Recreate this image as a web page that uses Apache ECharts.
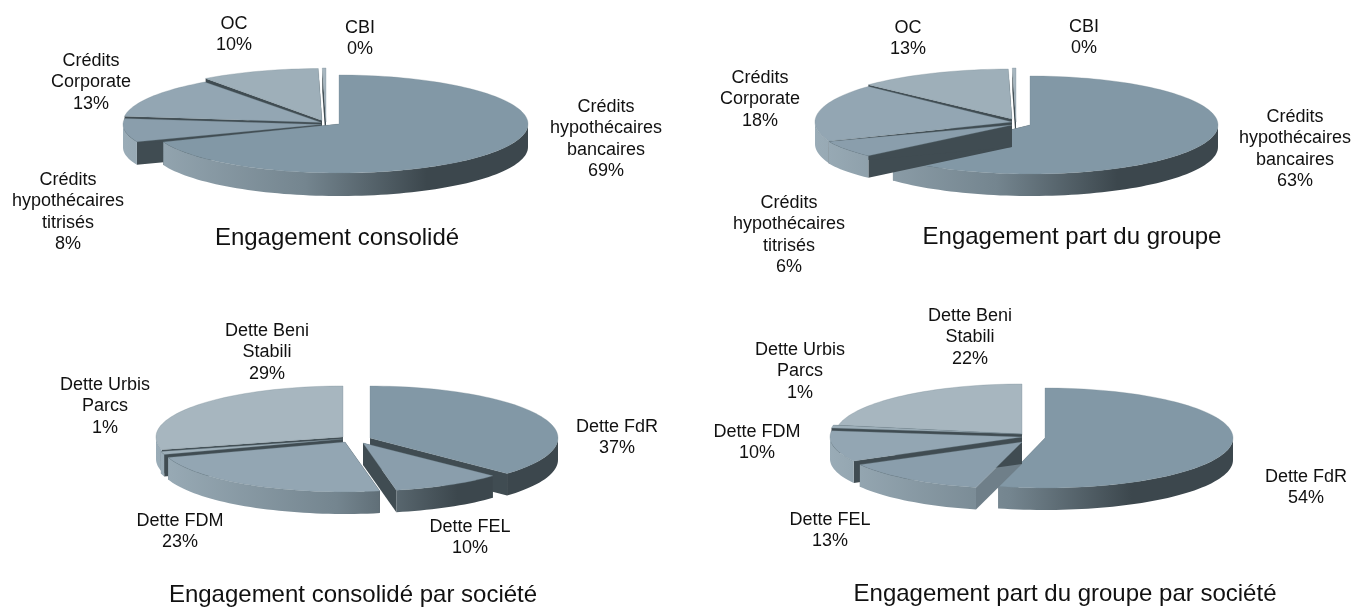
<!DOCTYPE html>
<html><head><meta charset="utf-8">
<style>html,body{margin:0;padding:0;background:#fff}#c{width:1357px;height:610px}</style>
<script src="https://cdn.jsdelivr.net/npm/echarts@6/dist/echarts.min.js"></script>
</head><body><div id="c"></div>
<script>
// ---- data ----
const creditCategories = ['Crédits\nhypothécaires\nbancaires','Crédits\nhypothécaires\ntitrisés','Crédits\nCorporate','OC','CBI'];
const detteCategories = ['Dette FdR','Dette FEL','Dette FDM','Dette Urbis\nParcs','Dette Beni\nStabili'];
const consolideValues = [69, 8, 13, 9.7, 0.3];
const groupeValues = [63, 6, 18, 12.7, 0.3];
const consolideSocieteValues = [37, 10, 23, 1, 29];
const groupeSocieteValues = [54, 13, 10, 1, 22];
const pieTitles = ['Engagement consolidé','Engagement part du groupe','Engagement consolidé par société','Engagement part du groupe par société'];

// ---- layout: one entry per slice: apex x, apex y, rx, ry ; label centre x, first-line y ----
const layouts = [
 {depth:23, left:123, right:528, title:[337,240], cats:creditCategories, values:consolideValues,
  slices:[[339,124,189,49],[321,124.5,198,47],[321,122.5,198,50],[322,120.5,198,52],[326,122,198,54]],
  labels:[[606,107],[68,180],[91,61],[234,24],[360,28]]},
 {depth:22, left:815, right:1218, title:[1072,239], cats:creditCategories, values:groupeValues,
  slices:[[1030,125,188,49],[1012,125,197,45],[1012,122,197,52],[1012,119,197,50],[1016,122,197,54]],
  labels:[[1295,117],[789,203],[760,78],[908,28],[1084,27]]},
 {depth:22, left:156, right:558, title:[353,597], cats:detteCategories, values:consolideSocieteValues,
  slices:[[370,438,188,52],[363,443,178,48],[345,442,186,50],[343,439,188,50],[343,437,187,51]],
  labels:[[617,427],[470,527],[180,521],[105,385],[267,331]]},
 {depth:22, left:828, right:1233, title:[1065,596], cats:detteCategories, values:groupeSocieteValues,
  slices:[[1045,438,188,50],[1022,442,185,47],[1022,437,192,50],[1022,434,192,48],[1022,435,187,51]],
  labels:[[1306,477],[830,520],[757,432],[800,350],[970,316]]}
];
const topColors = ['#8298a6','#8a9eac','#93a6b3','#9eafb9','#a7b6bf'];
const wallStops = [[0,'#9aacb7'],[0.45,'#74858f'],[0.75,'#3c474d'],[1,'#3c474d']];
const lineHeight = 21.5, labelSize = 18, titleSize = 24;

function pt(s, deg, dy){
  const t = deg*Math.PI/180;
  return [s[0]+s[2]*Math.sin(t), s[1]-s[3]*Math.cos(t)+(dy||0)];
}
function arc(s,a,b,dy){
  const out=[], n=Math.max(2,Math.ceil(Math.abs(b-a)/2));
  for(let i=0;i<=n;i++) out.push(pt(s,a+(b-a)*i/n,dy));
  return out;
}
function rankOf(values, idx){
  const tot=values.reduce((p,c)=>p+c,0);
  let c=0; const mids=values.map(v=>{const m=(c+v/2)/tot*360;c+=v;return -Math.cos(m*Math.PI/180);});
  return mids.slice().sort((a,b)=>a-b).indexOf(mids[idx]);
}
function makeSeries(L){
  const tot = L.values.reduce((p,c)=>p+c,0);
  const grad = new echarts.graphic.LinearGradient(L.left,0,L.right,0,
    wallStops.map(s=>({offset:s[0],color:s[1]})), true);
  return {
    type:'custom', coordinateSystem:'none', silent:true, clip:false,
    data:L.values.map((v,i)=>({name:L.cats[i],value:[v]})),
    renderItem(params,api){
      const i=params.dataIndex, v=api.value(0);
      let before=0; for(let k=0;k<i;k++) before+=L.values[k];
      const a=before/tot*360, b=(before+v)/tot*360, s=L.slices[i], d=L.depth;
      const rank=rankOf(L.values,i)*10, kids=[], apex=[s[0],s[1]];
      const faceColor=e=>(e>185&&e<210)?'#6f7f89':'#404c52';
      [a,b].forEach(e=>{
        const o=pt(s,e);
        kids.push({type:'polygon',z2:rank,shape:{points:[apex,o,[o[0],o[1]+d],[apex[0],apex[1]+d]]},
          style:{fill:faceColor(e)}});
      });
      const w0=Math.max(a,90), w1=Math.min(b,270);
      if(w1>w0){
        kids.push({type:'polygon',z2:rank+1,shape:{points:arc(s,w0,w1,0).concat(arc(s,w1,w0,d))},
          style:{fill:grad}});
      }
      kids.push({type:'polygon',z2:rank+2,shape:{points:[apex].concat(arc(s,a,b,0))},
        style:{fill:topColors[i],stroke:'#76899580',lineWidth:0.6}});
      const lab=L.labels[i], lines=L.cats[i].split('\n');
      kids.push({type:'text',z2:200,style:{
        text:L.cats[i]+'\n'+Math.round(v)+'%',
        x:lab[0], y:lab[1]+lineHeight*lines.length/2,
        align:'center', verticalAlign:'middle', lineHeight:lineHeight,
        font:labelSize+'px "Liberation Sans", Arial, sans-serif', fill:'#111'}});
      return {type:'group',children:kids};
    }
  };
}
const chart = echarts.init(document.getElementById('c'),null,{renderer:'canvas'});
chart.setOption({
  animation:false,
  backgroundColor:'#fff',
  title:layouts.map((L,i)=>({
    text:pieTitles[i], left:L.title[0], top:L.title[1]-14, textAlign:'center', padding:0,
    textStyle:{fontFamily:'"Liberation Sans", Arial, sans-serif',fontSize:titleSize,fontWeight:'normal',color:'#111'}
  })),
  series:layouts.map(makeSeries)
});
</script></body></html>
